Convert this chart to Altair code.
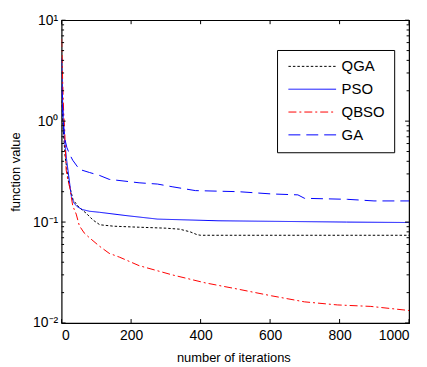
import altair as alt
import pandas as pd

series_names = ["QGA", "PSO", "QBSO", "GA"]
series_colors = ["#000000", "#0000ff", "#ff0000", "#0000ff"]
series_dashes = [[2.5, 2], [1, 0], [8, 3, 2, 3], [12, 6]]

qga_iter = [0, 5, 10, 13, 20, 33, 50, 70, 90, 110, 150, 220, 300, 340, 370, 390, 400, 1000]
qga_val = [1.6, 0.8, 0.45, 0.38, 0.25, 0.166, 0.14, 0.123, 0.105, 0.094, 0.091, 0.089, 0.087, 0.085, 0.08, 0.075, 0.074, 0.074]

pso_iter = [0, 3, 6, 9, 15, 22, 28, 35, 45, 60, 80, 109, 185, 276, 450, 820, 1000]
pso_val = [4.2, 1.5, 0.8, 0.62, 0.4, 0.26, 0.18, 0.155, 0.142, 0.133, 0.128, 0.125, 0.116, 0.107, 0.103, 0.1, 0.099]

qbso_iter = [0, 3, 6, 9, 13, 18, 23, 32, 42, 51, 65, 80, 108, 137, 166, 223, 318, 413, 509, 604, 699, 794, 890, 1000]
qbso_val = [6.5, 2.5, 1.2, 0.8, 0.33, 0.26, 0.224, 0.145, 0.12, 0.092, 0.078, 0.07, 0.058, 0.049, 0.045, 0.037, 0.03, 0.025, 0.0216, 0.0186, 0.0162, 0.0151, 0.0146, 0.0133]

ga_iter = [0, 3, 6, 10, 15, 23, 32, 51, 80, 109, 137, 223, 276, 318, 385, 509, 604, 680, 699, 823, 899, 1000]
ga_val = [2.2, 1.4, 0.9, 0.65, 0.55, 0.47, 0.41, 0.333, 0.31, 0.29, 0.265, 0.245, 0.238, 0.224, 0.205, 0.2, 0.19, 0.186, 0.172, 0.168, 0.162, 0.162]

x_tick_values = [0, 200, 400, 600, 800, 1000]
y_tick_values = [0.01, 0.1, 1, 10]
y_tick_labels = ["10⁻²", "10⁻¹", "10⁰", "10¹"]
y_minor_values = [k * 10.0 ** d for d in (-2, -1, 0) for k in range(2, 10)]

rows = []
for name, its, vals in [("QGA", qga_iter, qga_val), ("PSO", pso_iter, pso_val),
                        ("QBSO", qbso_iter, qbso_val), ("GA", ga_iter, ga_val)]:
    for i, v in zip(its, vals):
        rows.append({"series": name, "iteration": i, "value": v})
df = pd.DataFrame(rows)

W, H = 350, 305
FONT = "Liberation Sans"

xscale = alt.Scale(domain=[0, 1000], nice=False)
yscale = alt.Scale(type="log", domain=[0.01, 10], nice=False)

label_expr = " : ".join(
    [f"abs(datum.value - {v}) < {v * 0.01} ? '{l}'" for v, l in zip(y_tick_values, y_tick_labels)]
) + " : ''"

x_axis = alt.Axis(values=x_tick_values, format="d", title="number of iterations",
                  titleX=173, titleY=29)
y_axis = alt.Axis(values=y_tick_values, labelExpr=label_expr,
                  title="function value", titleX=-39, titleY=H / 2)

legend = alt.Legend(
    title=None, orient="none", legendX=217, legendY=30,
    strokeColor="black", fillColor="white", padding=9, cornerRadius=0,
    symbolType="M-4,0H4", symbolSize=144, symbolStrokeWidth=1, symbolOffset=19,
    labelFontSize=15, labelFont=FONT, labelColor="black", rowPadding=7, labelOffset=22,
)

lines = alt.Chart(df).mark_line(strokeWidth=1, clip=True).encode(
    x=alt.X("iteration:Q", scale=xscale, axis=x_axis),
    y=alt.Y("value:Q", scale=yscale, axis=y_axis),
    color=alt.Color("series:N", scale=alt.Scale(domain=series_names, range=series_colors),
                    legend=legend, sort=series_names),
    strokeDash=alt.StrokeDash("series:N", scale=alt.Scale(domain=series_names, range=series_dashes),
                              legend=legend, sort=series_names),
    order=alt.Order("iteration:Q"),
)

def ytick_layer(vals, side, length):
    d = pd.DataFrame({"value": vals})
    x0 = 0 if side == "left" else W
    x1 = length if side == "left" else W - length
    return alt.Chart(d).mark_rule(color="black", strokeWidth=1).encode(
        y=alt.Y("value:Q", scale=yscale, axis=y_axis),
        x=alt.value(x0), x2=alt.value(x1))

def xtick_layer(vals, side, length):
    d = pd.DataFrame({"iteration": vals})
    y0 = H if side == "bottom" else 0
    y1 = H - length if side == "bottom" else length
    return alt.Chart(d).mark_rule(color="black", strokeWidth=1).encode(
        x=alt.X("iteration:Q", scale=xscale, axis=x_axis),
        y=alt.value(y0), y2=alt.value(y1))

chart = alt.layer(
    lines,
    ytick_layer(y_tick_values, "left", 4), ytick_layer(y_tick_values, "right", 4),
    ytick_layer(y_minor_values, "left", 2.5), ytick_layer(y_minor_values, "right", 2.5),
    xtick_layer(x_tick_values, "bottom", 4), xtick_layer(x_tick_values, "top", 4),
).properties(
    width=W, height=H,
    autosize=alt.AutoSizeParams(type="none"),
    padding={"left": 54, "top": 11, "right": 10, "bottom": 40},
).configure_view(
    stroke="black", strokeWidth=1.2
).configure_axis(
    grid=False, domain=False, ticks=False,
    labelFont=FONT, labelFontSize=14, labelColor="black",
    titleFont=FONT, titleFontSize=13, titleColor="black", titleFontWeight="normal",
).configure_axisX(labelPadding=6).configure_axisY(labelPadding=4)

chart.save("out.html", embed_options={"renderer": "svg", "actions": False})
